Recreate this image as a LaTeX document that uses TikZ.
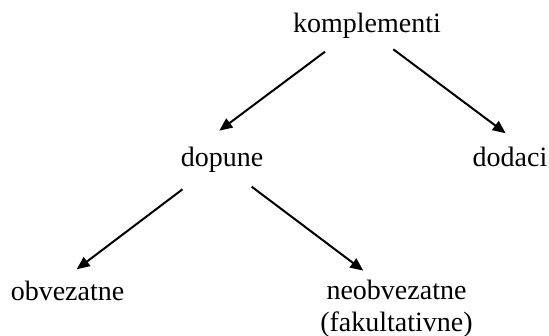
\documentclass[tikz,border=0pt]{standalone}
\usepackage{fontspec}
\setmainfont{Liberation Serif}
\usetikzlibrary{arrows.meta,calc}
\begin{document}
\begin{tikzpicture}[x=1pt,y=-1pt,
  lbl/.style={inner sep=0pt,anchor=base,font=\fontsize{28}{32}\selectfont,align=center},
  arr/.style={line width=2pt,-{Triangle[length=13pt,width=11pt]}}]
\useasboundingbox (0,0) rectangle (549,336);
\node[lbl] (komp) at (367,33) {komplementi};
\node[lbl] (dop) at (222,167) {dopune};
\node[lbl] (dod) at (510,167) {dodaci};
\node[lbl] (obv) at (67.5,301) {obvezatne};
\node[lbl] (neo) at (396.5,332) {neobvezatne\\(fakultativne)};
\draw[arr] ($(komp.base)+(-42,18.7)$) -- ($(dop.base)+(-2.7,-36.3)$);
\draw[arr] ($(komp.base)+(26.3,16.3)$) -- ($(dod.base)+(-4.3,-33.7)$);
\draw[arr] ($(dop.base)+(-39.5,22.3)$) -- ($(obv.base)+(9.2,-31.7)$);
\draw[arr] ($(dop.base)+(29.7,19.7)$) -- ($(neo.base)+(-33.2,-61.3)$);
\end{tikzpicture}
\end{document}
